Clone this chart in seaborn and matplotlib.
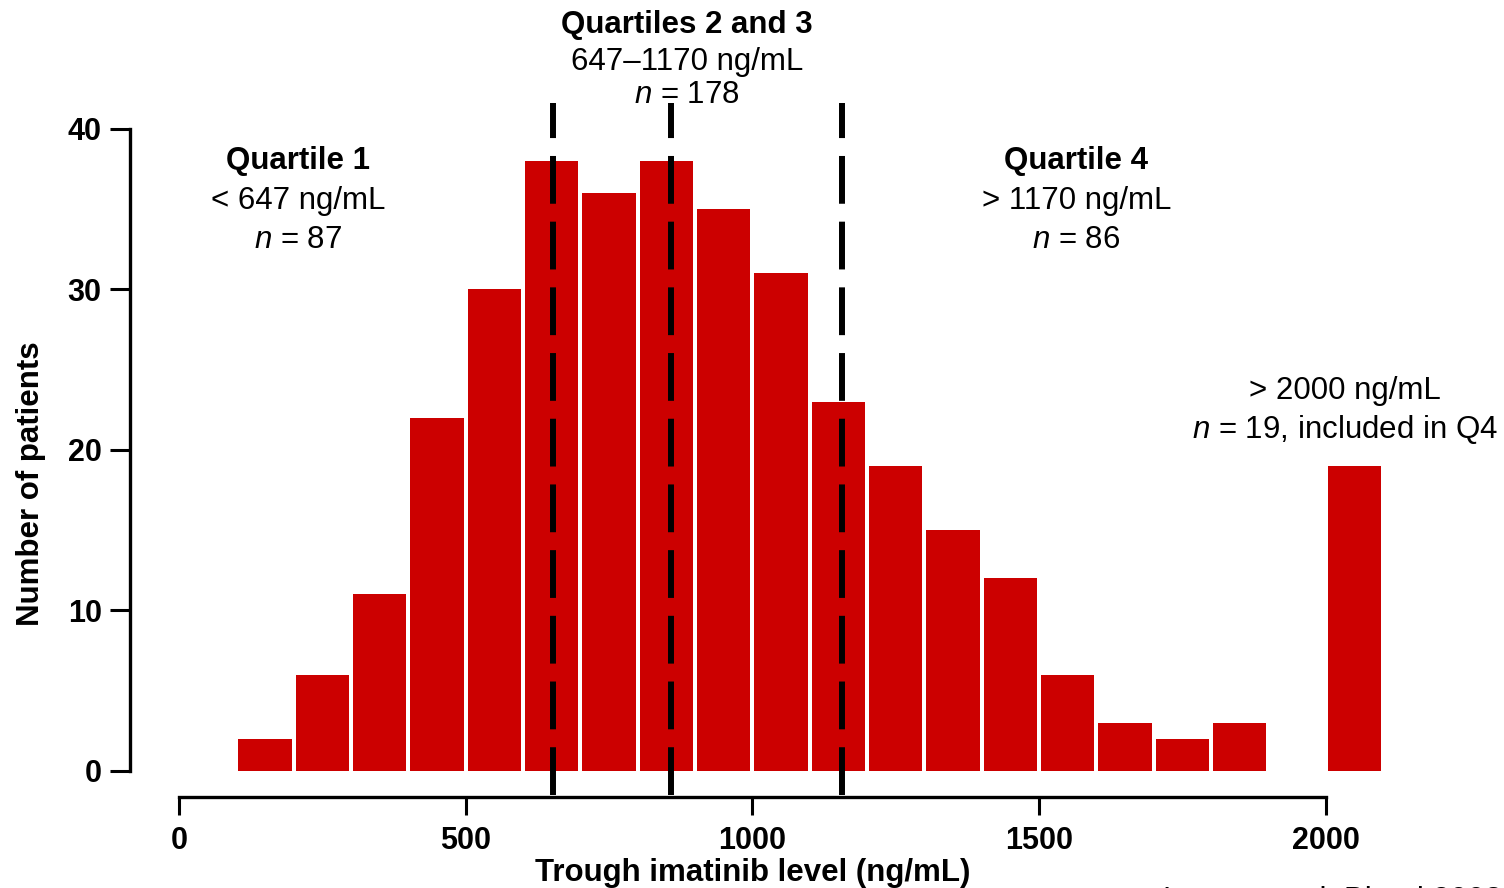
import numpy as np
import pandas as pd
import matplotlib.pyplot as plt
import seaborn as sns

# values
bin_left = [100, 200, 300, 400, 500, 600, 700, 800, 900, 1000,
            1100, 1200, 1300, 1400, 1500, 1600, 1700, 1800, 2000]
counts = [2, 6, 11, 22, 30, 38, 36, 38, 35, 31,
          23, 19, 15, 12, 6, 3, 2, 3, 19]
cut_lines = [652, 858, 1157]      # dashed quartile cut-offs, as drawn
x_ticks = [0, 500, 1000, 1500, 2000]
y_ticks = [0, 10, 20, 30, 40]

sns.set_style('ticks')
plt.rcParams['font.family'] = ['Liberation Sans', 'DejaVu Sans']
plt.rcParams['mathtext.fontset'] = 'custom'
plt.rcParams['mathtext.rm'] = 'Liberation Sans'
plt.rcParams['mathtext.it'] = 'Liberation Sans:italic'
plt.rcParams['text.color'] = 'black'
plt.rcParams['axes.labelcolor'] = 'black'

df = pd.DataFrame({'level': [b + 50 for b in bin_left], 'count': counts})

fig = plt.figure(figsize=(15.04, 8.88), dpi=100)
ax = fig.add_axes([179 / 1504, 1 - 771 / 888, 1318.6 / 1504, 642 / 888])

sns.histplot(data=df, x='level', weights='count', bins=list(range(100, 2200, 100)),
             shrink=0.93, color='#CC0000', alpha=1, linewidth=0, ax=ax)

# dashed quartile lines
for xc in cut_lines:
    ax.plot([xc, xc], [-1.5, 41.6], color='black', lw=4.3,
            linestyle=(0, (8, 3)), clip_on=False, zorder=3)

ax.set_xlim(0, 2300)
ax.set_ylim(0, 40)
ax.set_xticks(x_ticks)
ax.set_yticks(y_ticks)

# spines
sns.despine(ax=ax)
ax.spines['left'].set_position(('outward', 35.3))
ax.spines['bottom'].set_position(('outward', 18.7))
ax.spines['left'].set_bounds(0, 40)
ax.spines['bottom'].set_bounds(0, 2000)
for s in ['left', 'bottom']:
    ax.spines[s].set_linewidth(2.4)
    ax.spines[s].set_color('black')

ax.tick_params(axis='both', direction='out', width=2.2, colors='black', labelsize=22)
ax.tick_params(axis='y', length=14.4, pad=6)
ax.tick_params(axis='x', length=13, pad=8)
for lbl in ax.get_xticklabels() + ax.get_yticklabels():
    lbl.set_fontweight('bold')

ax.set_xlabel('Trough imatinib level (ng/mL)', fontsize=22.5, fontweight='bold')
ax.set_ylabel('Number of patients', fontsize=22.5, fontweight='bold')
ax.xaxis.set_label_coords(1000 / 2300, -0.136)
ax.yaxis.set_label_coords(-0.101, 0.447)

fs = 22.5
# Quartile 1
ax.text(208, 38.0, 'Quartile 1', fontsize=fs, fontweight='bold', ha='center', va='center')
ax.text(208, 35.5, '< 647 ng/mL', fontsize=fs, ha='center', va='center')
ax.text(208, 33.1, r'$n$ = 87', fontsize=fs, ha='center', va='center')
# Quartiles 2 and 3
ax.text(886, 46.45, 'Quartiles 2 and 3', fontsize=fs, fontweight='bold', ha='center', va='center')
ax.text(886, 44.2, '647\u20131170 ng/mL', fontsize=fs, ha='center', va='center')
ax.text(886, 42.1, r'$n$ = 178', fontsize=fs, ha='center', va='center')
# Quartile 4
ax.text(1565, 38.0, 'Quartile 4', fontsize=fs, fontweight='bold', ha='center', va='center')
ax.text(1565, 35.5, '> 1170 ng/mL', fontsize=fs, ha='center', va='center')
ax.text(1565, 33.1, r'$n$ = 86', fontsize=fs, ha='center', va='center')
# > 2000
ax.text(2034, 23.68, '> 2000 ng/mL', fontsize=fs, ha='center', va='center')
ax.text(2034, 21.3, r'$n$ = 19, included in Q4', fontsize=fs, ha='center', va='center')

# source line, mostly cut off at the bottom edge (as in the original)
fig.text(1502 / 1504, 0.002, 'Larson et al. Blood 2008', fontsize=fs,
         ha='right', va='top')

plt.savefig('out.png', dpi=100)
